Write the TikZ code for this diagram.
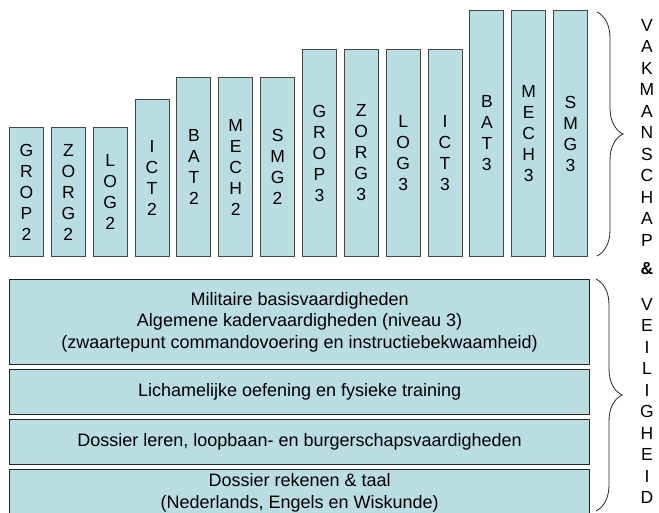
\documentclass[tikz,border=0pt]{standalone}
\usepackage{fontspec}
\setmainfont{Liberation Sans}
\usetikzlibrary{decorations.pathreplacing}
\definecolor{barfill}{RGB}{185,221,225}
\definecolor{barline}{RGB}{70,70,70}
\tikzset{
  bar/.style={draw=barline, line width=1pt, fill=barfill, minimum width=34pt,
    anchor=south west, inner sep=0pt, align=center,
    font=\fontsize{17.5}{21}\selectfont},
  layer/.style={draw=black!85, line width=1.2pt, fill=barfill, minimum width=580pt,
    anchor=north west, inner sep=0pt, align=center,
    font=\fontsize{18}{21.7}\selectfont},
  sidetext/.style={align=center, inner sep=0pt, font=\fontsize{17.5}{21.5}\selectfont},
  bracedeco/.style={decorate, decoration={brace, amplitude=26pt}, line width=0.8pt, draw=black!85}
}
\begin{document}
\begin{tikzpicture}[x=1pt,y=-1pt]
\useasboundingbox (0,0) rectangle (659,512);
\clip (0,0) rectangle (659,512);
% bars
\node[bar, minimum height=129pt] (grop2) at (9,257) {G\\R\\O\\P\\2};
\node[bar, minimum height=129pt] (zorg2) at (50.85,257) {Z\\O\\R\\G\\2};
\node[bar, minimum height=129pt] (log2) at (92.7,257) {L\\O\\G\\2};
\node[bar, minimum height=157pt] (ict2) at (134.55,257) {I\\C\\T\\2};
\node[bar, minimum height=179pt] (bat2) at (176.4,257) {B\\A\\T\\2};
\node[bar, minimum height=179pt] (mech2) at (218.25,257) {M\\E\\C\\H\\2};
\node[bar, minimum height=179pt] (smg2) at (260.1,257) {S\\M\\G\\2};
\node[bar, minimum height=207pt] (grop3) at (301.95,257) {G\\R\\O\\P\\3};
\node[bar, minimum height=207pt] (zorg3) at (343.8,257) {Z\\O\\R\\G\\3};
\node[bar, minimum height=207pt] (log3) at (385.65,257) {L\\O\\G\\3};
\node[bar, minimum height=207pt] (ict3) at (427.5,257) {I\\C\\T\\3};
\node[bar, minimum height=246pt] (bat3) at (469.35,257) {B\\A\\T\\3};
\node[bar, minimum height=246pt] (mech3) at (511.2,257) {M\\E\\C\\H\\3};
\node[bar, minimum height=246pt] (smg3) at (553.05,257) {S\\M\\G\\3};
% layers
\node[layer, minimum height=85pt] (mil) at (9,279) {Militaire basisvaardigheden\\Algemene kadervaardigheden (niveau 3)\\(zwaartepunt commandovoering en instructiebekwaamheid)};
\node[layer, minimum height=45pt] (lich) at (9,369) {Lichamelijke oefening en fysieke training};
\node[layer, minimum height=45pt] (dos) at (9,419) {Dossier leren, loopbaan- en burgerschapsvaardigheden};
\node[layer, minimum height=47pt] (rek) at (9,469) {Dossier rekenen \& taal\\(Nederlands, Engels en Wiskunde)};
% braces
\coordinate (b1t) at (597,12);
\coordinate (b1b) at (597,256);
\coordinate (b2t) at (596,279);
\coordinate (b2b) at (596,511);
\draw[bracedeco] (b1t) -- (b1b);
\draw[bracedeco] (b2t) -- (b2b);
% side text
\node[sidetext] (vak) at (647,132.5) {V\\A\\K\\M\\A\\N\\S\\C\\H\\A\\P};
\node[sidetext, font=\fontsize{17.5}{21.5}\selectfont\bfseries] (amp) at (647,269) {\&};
\node[sidetext] (veil) at (647,401) {V\\E\\I\\L\\I\\G\\H\\E\\I\\D};
\end{tikzpicture}
\end{document}
